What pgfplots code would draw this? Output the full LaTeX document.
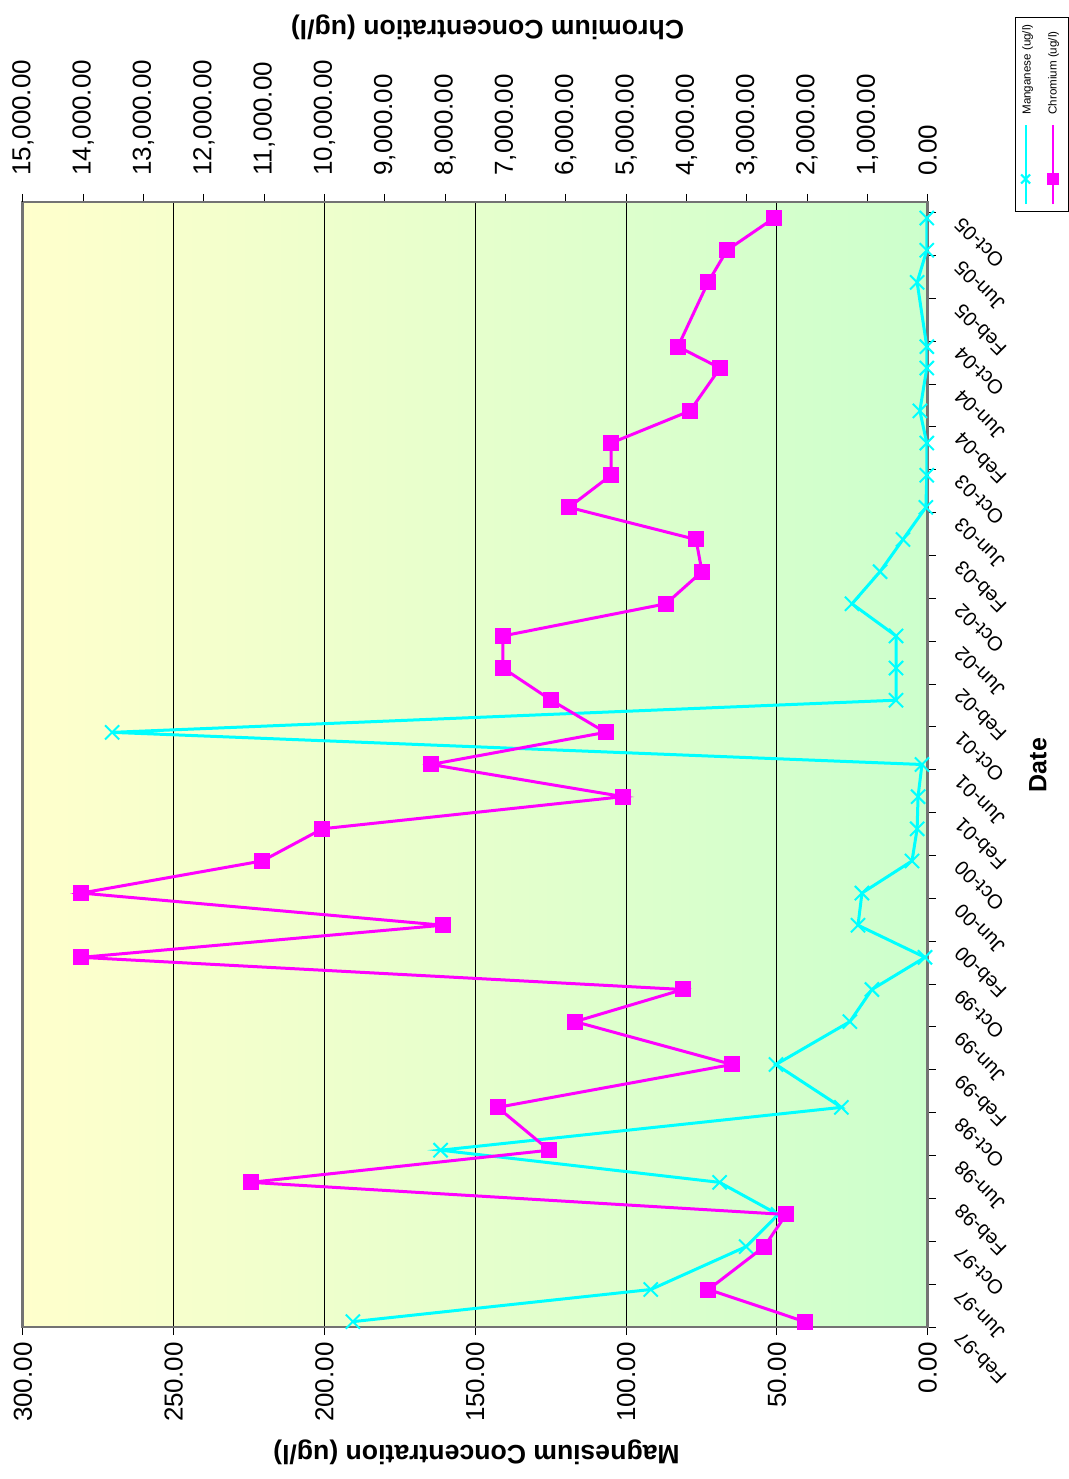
\documentclass[border=0pt]{standalone}
\usepackage{fontspec}
\setmainfont{Liberation Sans}
\usepackage{pgfplots}
\usepackage{pgfplotstable}
\pgfplotsset{compat=1.18}
\definecolor{bgY}{RGB}{255,255,204}
\definecolor{bgG}{RGB}{204,255,204}
\definecolor{frameC}{RGB}{115,115,115}
\definecolor{mnC}{RGB}{0,255,255}
\definecolor{crC}{RGB}{255,0,255}

% m = months since Feb-97
\pgfplotstableread{
m v
0 190.6
3 91.8
7 60.2
10 49.6
13 69.0
16 161.5
20 28.6
24 50.3
28 25.8
31 18.5
34 0.9
37 23.1
40 21.8
43 5.2
46 3.5
49 3.2
52 1.9
55 270.4
58 10.5
61 10.5
64 10.5
67 25.1
70 15.8
73 8.2
76 0.6
79 0.3
82 0.3
85 2.6
89 0.3
91 0.3
97 3.5
100 0.3
103 0.3
}\mgdata

\pgfplotstableread{
m v
0 2040
3 3635
7 2710
10 2347
13 11225
16 6275
20 7130
24 3244
28 5847
31 4057
34 14030
37 8040
40 14030
43 11030
46 10035
49 5048
52 8236
55 5340
58 6242
61 7041
64 7041
67 4339
70 3742
73 3841
76 5947
79 5250
82 5250
85 3941
89 3443
91 4140
97 3642
100 3327
103 2548
}\crdata

\tikzset{
  mnstyle/.style={color=mnC, line width=1.5pt, mark=x, mark size=5pt, mark options={line width=1pt}},
  crstyle/.style={color=crC, line width=1.5pt, mark=square*, mark size=3.6pt, mark options={line width=0.8pt}},
}

\begin{document}
\begin{tikzpicture}
\useasboundingbox (-11.45pt,-76pt) rectangle (523.05pt,663.5pt);
% ---- primary axis: Magnesium / dates ----
\begin{axis}[
  at={(0pt,0pt)}, anchor=south west,
  scale only axis, width=452.4pt, height=562.5pt,
  x dir=reverse, xmin=0, xmax=300, ymin=-0.5, ymax=104.5,
  axis background/.style={left color=bgY, right color=bgG},
  axis line style={draw=frameC, line width=1.4pt},
  xtick={0,50,...,300}, minor xtick={0,50,...,300}, xtick pos=bottom,
  ytick={0,4,...,104}, ytick pos=right,
  yticklabels={Feb-97,Jun-97,Oct-97,Feb-98,Jun-98,Oct-98,Feb-99,Jun-99,Oct-99,Feb-00,Jun-00,Oct-00,Feb-01,Jun-01,Oct-01,Feb-02,Jun-02,Oct-02,Feb-03,Jun-03,Oct-03,Feb-04,Jun-04,Oct-04,Feb-05,Jun-05,Oct-05},
  minor ytick={-0.5,3.5,...,103.5},
  tick align=outside,
  major tick length=0pt, minor tick length=4pt,
  tick style={black, line width=0.5pt},
  xmajorgrids, grid style={black, line width=0.5pt},
  /pgf/number format/.cd, fixed, fixed zerofill, precision=2, assume math mode=true, /pgfplots/.cd,
  xticklabel style={font=\fontsize{13}{15}\selectfont, inner sep=0pt, yshift=-7.5pt, rotate=90, anchor=east},
  yticklabel style={font=\fontsize{10}{12}\selectfont, inner sep=0pt, xshift=15pt, yshift=-7pt, rotate=135, anchor=east},
]
\addplot[mnstyle] table[x=v, y=m] {\mgdata};
\end{axis}
% ---- secondary axis: Chromium ----
\begin{axis}[
  at={(0pt,0pt)}, anchor=south west,
  scale only axis, width=452.4pt, height=562.5pt,
  x dir=reverse, xmin=0, xmax=15000, ymin=-0.5, ymax=104.5,
  axis x line*=top, axis y line=none,
  axis line style={draw=frameC, line width=1.4pt},
  xtick={0,1000,...,15000}, scaled x ticks=false,
  ytick=\empty,
  tick align=outside, major tick length=4pt,
  tick style={black, line width=0.5pt},
  /pgf/number format/.cd, fixed, fixed zerofill, precision=2, 1000 sep={,}, assume math mode=true, /pgfplots/.cd,
  xticklabel style={font=\fontsize{13}{15}\selectfont, inner sep=0pt, yshift=9pt, rotate=90, anchor=west},
]
\addplot[crstyle] table[x=v, y=m] {\crdata};
\end{axis}
% ---- legend box (rotated like the chart) ----
\begin{axis}[
  at={(496.05pt,557.5pt)}, anchor=south west,
  scale only axis, width=26.5pt, height=97pt,
  xmin=0, xmax=1, ymin=0, ymax=1,
  axis lines=box, ticks=none, clip=false,
  axis line style={black, line width=0.5pt},
  axis background/.style={fill=white},
]
\addplot[mnstyle, line width=1pt, mark size=3.2pt, mark repeat=2, mark phase=2] coordinates {(0.2,0.04) (0.2,0.17) (0.2,0.45)};
\addplot[crstyle, line width=1pt, mark size=2.6pt, mark repeat=2, mark phase=2] coordinates {(0.71,0.04) (0.71,0.17) (0.71,0.45)};
\node[rotate=90, anchor=west, inner sep=0pt, font=\fontsize{5.8}{7}\selectfont] at (axis cs:0.24,0.50) {Manganese (ug/l)};
\node[rotate=90, anchor=west, inner sep=0pt, font=\fontsize{5.8}{7}\selectfont] at (axis cs:0.73,0.50) {Chromium (ug/l)};
\end{axis}
\node[rotate=180, font=\bfseries\fontsize{13.3}{16}\selectfont] at (226.8pt,-62.5pt) {Magnesium Concentration (ug/l)};
\node[rotate=180, font=\bfseries\fontsize{13.3}{16}\selectfont] at (232.3pt,650pt) {Chromium Concentration (ug/l)};
\node[rotate=90, font=\bfseries\fontsize{12.5}{15}\selectfont] at (507.5pt,281pt) {Date};
\end{tikzpicture}
\end{document}
